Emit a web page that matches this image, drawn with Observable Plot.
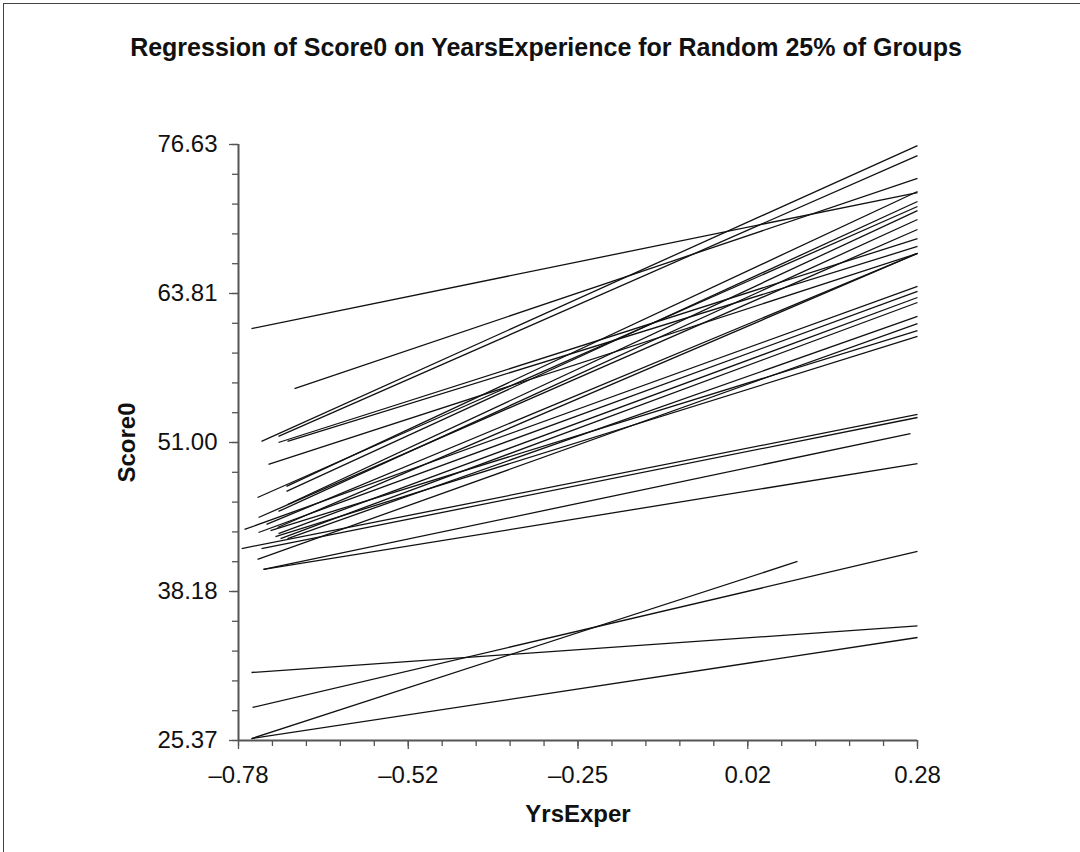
<!DOCTYPE html>
<html>
<head>
<meta charset="utf-8">
<script src="https://cdn.jsdelivr.net/npm/d3@7"></script>
<script src="https://cdn.jsdelivr.net/npm/@observablehq/plot@0.6"></script>
<style>
  html, body { margin: 0; padding: 0; background: #fff; }
  #page { position: relative; width: 1080px; height: 852px; overflow: hidden; }
  #frame { position: absolute; left: 3px; top: 3px; width: 1100px; height: 870px; border: 1px solid #444; box-sizing: border-box; }
  #chart { position: absolute; left: 0; top: 0; }
</style>
</head>
<body>
<div id="page"><div id="frame"></div><div id="chart"></div></div>
<script>
// Regression lines (one per sampled group): start and end points
const groupIds = d3.range(1, 32);
const xStart = [-0.7597, -0.6926, -0.7441, -0.7176, -0.7176, -0.7035, -0.7332, -0.7503, -0.7051, -0.7051,
                -0.7035, -0.7176, -0.7488, -0.7706, -0.7363, -0.7488, -0.7191, -0.7176, -0.7144, -0.7035,
                -0.7503, -0.7750, -0.7441, -0.7410, -0.7410, -0.7300, -0.7222, -0.7597, -0.7581, -0.7597, -0.7597];
const yStart = [60.80, 55.64, 51.09, 51.52, 51.00, 51.09, 49.11, 46.27, 47.22, 46.79,
                45.67, 45.07, 44.55, 43.52, 43.95, 43.26, 43.69, 43.17, 42.74, 42.74,
                40.94, 41.88, 41.88, 40.08, 40.08, 43.43, 42.91, 31.22, 28.21, 25.54, 25.54];
const xEnd   = [0.28, 0.28, 0.28, 0.28, 0.28, 0.28, 0.28, 0.28, 0.28, 0.28,
                0.28, 0.28, 0.28, 0.28, 0.28, 0.28, 0.28, 0.28, 0.28, 0.28,
                0.28, 0.28, 0.28, 0.269, 0.28, 0.28, 0.28, 0.28, 0.28, 0.0927, 0.28];
const yEnd   = [72.50, 73.71, 76.54, 75.68, 68.54, 67.86, 67.26, 71.30, 72.59, 71.73,
                70.95, 70.18, 69.32, 64.42, 67.26, 63.99, 67.26, 63.47, 63.04, 61.84,
                61.23, 53.41, 53.15, 51.77, 49.19, 60.63, 60.12, 35.22, 41.63, 40.77, 34.23];

const xTicks = [-0.78, -0.515, -0.25, 0.015, 0.28];
const xTickLabels = ["\u20130.78", "\u20130.52", "\u20130.25", "0.02", "0.28"];
const yTicks = [25.37, 38.185, 51.0, 63.815, 76.63];
const yTickLabels = ["25.37", "38.18", "51.00", "63.81", "76.63"];
const xMinor = d3.range(0, 21).map(i => -0.78 + i * 0.053);
const yMinor = d3.range(0, 21).map(i => 25.37 + i * 2.563);

const lines = groupIds.map((g, i) => ({g, x1: xStart[i], y1: yStart[i], x2: xEnd[i], y2: yEnd[i]}));

const font = "'Liberation Sans', Arial, Helvetica, sans-serif";
const axisColor = "#555";

const chart = Plot.plot({
  width: 1080,
  height: 852,
  marginLeft: 238,
  marginRight: 163,
  marginTop: 144,
  marginBottom: 112,
  style: {fontFamily: font, background: "transparent", overflow: "visible"},
  x: {domain: [-0.78, 0.28]},
  y: {domain: [25.37, 76.63]},
  marks: [
    Plot.axisX(xMinor, {tickSize: 6, tickFormat: () => "", stroke: axisColor, strokeWidth: 1.3}),
    Plot.axisY(yMinor, {tickSize: 6, tickFormat: () => "", stroke: axisColor, strokeWidth: 1.3}),
    Plot.axisX(xTicks, {tickSize: 9, tickPadding: 16, fontSize: 24, stroke: axisColor, strokeWidth: 1.3,
      fill: "#111", tickFormat: d => xTickLabels[xTicks.indexOf(d)], label: null}),
    Plot.axisY(yTicks, {tickSize: 9, tickPadding: 12, fontSize: 24, stroke: axisColor, strokeWidth: 1.3,
      fill: "#111", tickFormat: d => yTickLabels[yTicks.indexOf(d)], label: null}),
    Plot.ruleY([25.37], {stroke: axisColor, strokeWidth: 2}),
    Plot.ruleX([-0.78], {stroke: axisColor, strokeWidth: 2}),
    Plot.link(lines, {x1: "x1", y1: "y1", x2: "x2", y2: "y2", stroke: "#111", strokeWidth: 1.3}),
    Plot.text(["Regression of Score0 on YearsExperience for Random 25% of Groups"], {
      frameAnchor: "top", textAnchor: "middle", dy: -106, dx: -32, text: d => d, fontSize: 25, fontWeight: "bold", fill: "#111"}),
    Plot.text(["YrsExper"], {frameAnchor: "bottom", textAnchor: "middle", dy: 81, text: d => d, fontSize: 24, fontWeight: "bold", fill: "#111"}),
    Plot.text(["Score0"], {frameAnchor: "left", textAnchor: "middle", dx: -111, rotate: -90, text: d => d, fontSize: 24, fontWeight: "bold", fill: "#111"})
  ]
});
document.getElementById("chart").appendChild(chart);
</script>
</body>
</html>
